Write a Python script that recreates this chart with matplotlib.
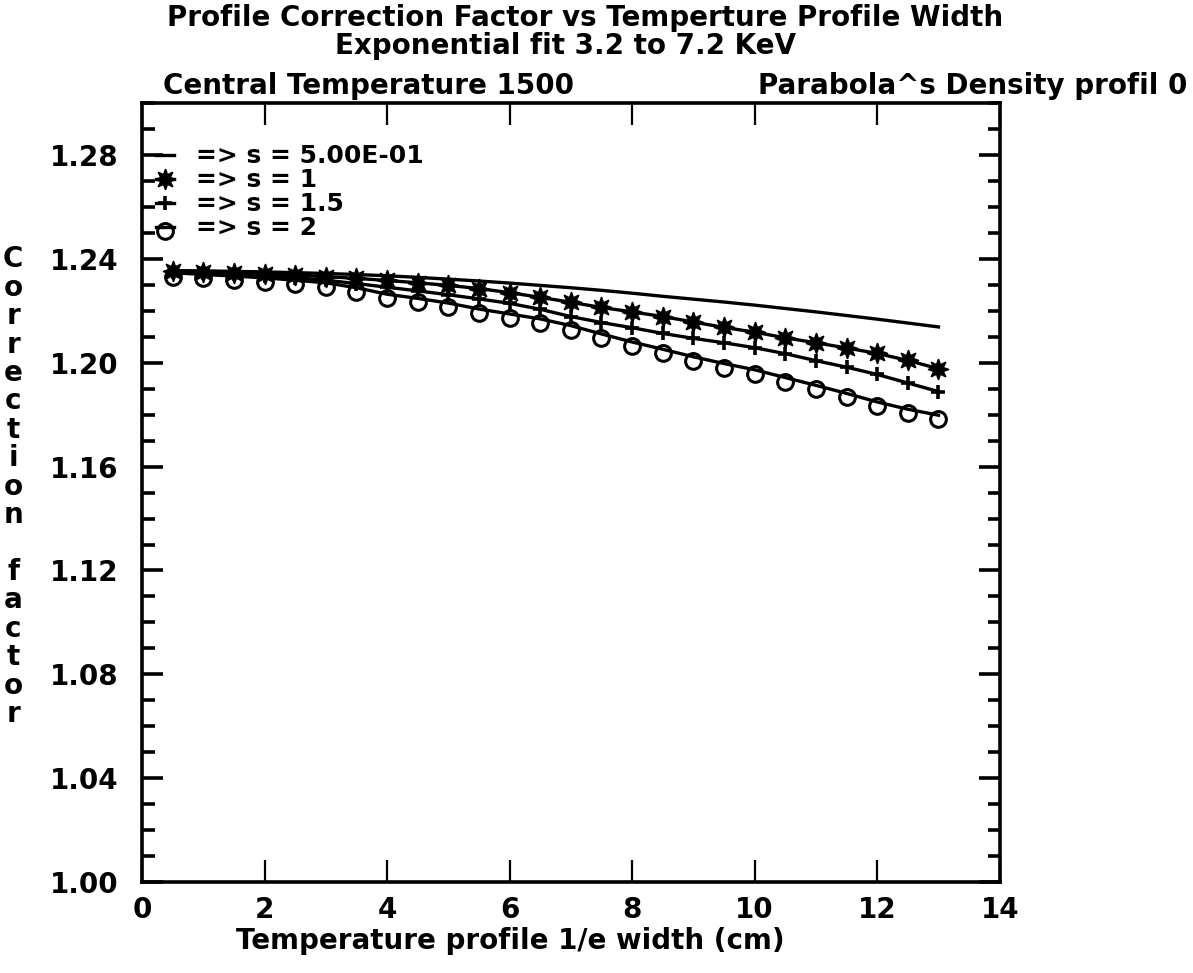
import numpy as np
import matplotlib
matplotlib.use("Agg")
import matplotlib.pyplot as plt
from matplotlib.path import Path
from matplotlib.ticker import MultipleLocator

# temperature profile 1/e width (cm)
width = [0.5, 1.0, 1.5, 2.0, 2.5, 3.0, 3.5, 4.0, 4.5, 5.0, 5.5, 6.0, 6.5,
         7.0, 7.5, 8.0, 8.5, 9.0, 9.5, 10.0, 10.5, 11.0, 11.5, 12.0, 12.5, 13.0]

# correction factor for each density peaking s
cf_s05 = [1.2355, 1.2354, 1.2352, 1.2350, 1.2347, 1.2344, 1.2340, 1.2335, 1.2329,
          1.2322, 1.2315, 1.2307, 1.2298, 1.2289, 1.2279, 1.2268, 1.2256, 1.2245,
          1.2234, 1.2222, 1.2209, 1.2196, 1.2182, 1.2168, 1.2153, 1.2138]
cf_s1 = [1.2352, 1.2350, 1.2347, 1.2343, 1.2338, 1.2332, 1.2325, 1.2317, 1.2308,
         1.2298, 1.2286, 1.2270, 1.2252, 1.2233, 1.2213, 1.2196, 1.2178, 1.2157,
         1.2136, 1.2118, 1.2096, 1.2077, 1.2057, 1.2036, 1.2009, 1.1977]
cf_s15 = [1.2349, 1.2346, 1.2342, 1.2336, 1.2328, 1.2318, 1.2305, 1.2291, 1.2277,
          1.2262, 1.2246, 1.2229, 1.2206, 1.2178, 1.2155, 1.2135, 1.2113, 1.2094,
          1.2077, 1.2058, 1.2035, 1.2008, 1.1983, 1.1955, 1.1922, 1.1889]
cf_s2 = [1.2347, 1.2340, 1.2334, 1.2327, 1.2318, 1.2308, 1.2289, 1.2264, 1.2248,
         1.2230, 1.2207, 1.2188, 1.2169, 1.2143, 1.2111, 1.2080, 1.2052, 1.2023,
         1.1997, 1.1973, 1.1943, 1.1913, 1.1882, 1.1849, 1.1821, 1.1798]

labels = ["=> s = 5.00E-01", "=> s = 1", "=> s = 1.5", "=> s = 2"]

plt.rcParams["font.family"] = ["DejaVu Sans"]
plt.rcParams["font.weight"] = "bold"
fs = 20

fig = plt.figure(figsize=(11.93, 9.73), dpi=100)
ax = fig.add_axes([0.119, 0.0935, 0.719, 0.8005])

# plotter-style "0" marker that hangs below the curve
circ = Path.unit_circle()
hang = Path(circ.vertices + [0, -0.5], circ.codes)

lw = 2.4
ax.plot(width, cf_s05, color="black", lw=lw, label=labels[0])
ax.plot(width, cf_s1, color="black", lw=lw, marker=(8, 1, 0), ms=15,
        label=labels[1])
ax.plot(width, cf_s15, color="black", lw=lw, marker="+", ms=10, mew=2.6,
        label=labels[2])
ax.plot(width, cf_s2, color="black", lw=lw, marker=hang, ms=17, mew=2.2,
        mfc="none", label=labels[3])

ax.set_xlim(0, 14)
ax.set_ylim(1.00, 1.30)
ax.xaxis.set_major_locator(MultipleLocator(2))
ax.yaxis.set_major_locator(MultipleLocator(0.04))
ax.yaxis.set_minor_locator(MultipleLocator(0.01))
ax.yaxis.set_major_formatter(plt.FuncFormatter(lambda v, p: "%.2f" % v))

ax.tick_params(axis="x", which="major", direction="in", top=True, length=16,
               width=1.6, labelsize=fs, pad=10)
ax.tick_params(axis="y", which="major", direction="in", right=True, length=15,
               width=2.6, labelsize=fs, pad=17)
ax.tick_params(axis="y", which="minor", direction="in", right=True, length=9,
               width=2.6)
for sp in ax.spines.values():
    sp.set_linewidth(2.6)

ax.set_xlabel("Temperature profile 1/e width (cm)", fontsize=fs,
              fontweight="bold")
ax.xaxis.set_label_coords(0.43, -0.058)

# stacked vertical y label
fig.text(0.011, 0.748, "\n".join("Correction factor"), fontsize=fs,
         va="top", ha="center", linespacing=1.02)

leg = ax.legend(loc="upper left", bbox_to_anchor=(0.016, 0.947), frameon=False,
                fontsize=18, handlelength=0.75, handletextpad=0.85,
                borderaxespad=0, borderpad=0, labelspacing=0.0)

fig.text(0.49, 0.981, "Profile Correction Factor vs Temperture Profile Width",
         fontsize=fs, ha="center", va="center")
fig.text(0.474, 0.953, "Exponential fit 3.2 to 7.2 KeV",
         fontsize=fs, ha="center", va="center")
fig.text(0.137, 0.912, "Central Temperature 1500", fontsize=fs,
         ha="left", va="center")
fig.text(0.995, 0.912, "Parabola^s Density profil 0", fontsize=fs,
         ha="right", va="center")

fig.savefig("out.png", dpi=100)
